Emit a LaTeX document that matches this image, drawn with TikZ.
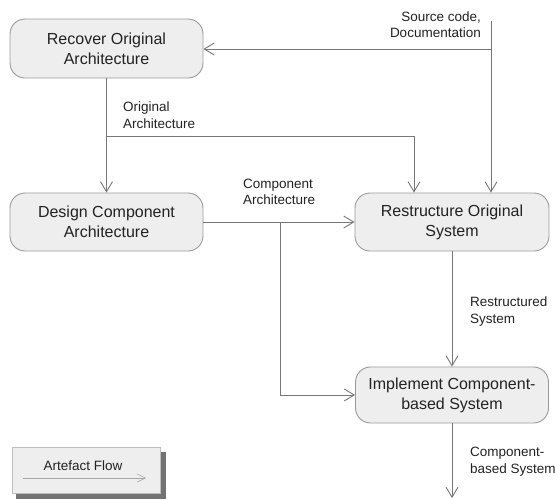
\documentclass[tikz,border=0pt]{standalone}
\usepackage{fontspec}
\setmainfont{Liberation Sans}
\usetikzlibrary{arrows.meta}
\definecolor{boxfill}{HTML}{EEEEEE}
\definecolor{boxline}{HTML}{9A9A9A}
\definecolor{flowline}{HTML}{777777}
\definecolor{inkcol}{HTML}{222222}
\begin{document}
\begin{tikzpicture}[x=1pt,y=-1pt,
  activity/.style={draw=boxline, fill=boxfill, rounded corners=15pt, line width=0.9pt,
    minimum width=193pt, minimum height=57pt, align=center, text=inkcol,
    font=\fontsize{16}{20}\selectfont, inner sep=0pt},
  flow/.style={draw=flowline, line width=0.9pt,
    -{Straight Barb[length=10pt,width=12pt,line width=0.9pt]}},
  plain/.style={draw=flowline, line width=0.9pt},
  lbl/.style={align=left, text=inkcol, inner sep=0pt,
    font=\fontsize{13.5}{16.5}\selectfont}]
\useasboundingbox (0,0) rectangle (555,499);

% activities
\node[activity, minimum height=59pt] (rec) at (106.5,48.5) {Recover Original\\Architecture};
\node[activity, minimum height=58pt] (des) at (106.5,222) {Design Component\\Architecture};
\node[activity, minimum width=194pt, minimum height=58pt] (rst) at (452,222) {Restructure Original\\System};
\node[activity, minimum height=56pt] (imp) at (452,395) {Implement Component-\\based System};

% junction points
\coordinate (src) at (491,21);
\coordinate (j1) at (491,49);
\coordinate (j2) at (106.5,136);
\coordinate (j3) at (280,222);
\coordinate (out) at (452,498);

% artefact flows
\draw[plain] (src) -- (j1);
\draw[flow] (j1) -- (rec.east |- j1);
\draw[flow] (j1) -- (j1 |- rst.north);
\draw[flow] (rec.south) -- (des.north);
\draw[flow] (j2) -| ([xshift=-38pt]rst.north);
\draw[flow] (des.east) -- (rst.west);
\draw[flow] (j3) |- (imp.west);
\draw[flow] (rst.south) -- (imp.north);
\draw[flow] (imp.south) -- (out);

% flow labels
\node[lbl, align=right, anchor=east] (lsrc) at (481,24.5) {Source code,\\Documentation};
\node[lbl, anchor=west] (lorig) at (123,115) {Original\\Architecture};
\node[lbl, anchor=west] (lcomp) at (243,192) {Component\\Architecture};
\node[lbl, anchor=west] (lrst) at (470,311.5) {Restructured\\System};
\node[lbl, anchor=west] (lcbs) at (470,461.5) {Component-\\based System};

% legend
\fill[fill=black!55] (16,452) rectangle (166,499);
\node[draw=black!25, fill=boxfill, minimum width=148pt, minimum height=46pt,
  inner sep=0pt, line width=0.6pt] (leg) at (86,470) {};
\node[lbl, anchor=center] (legtext) at (83,466) {Artefact Flow};
\coordinate (la) at (23,478);
\coordinate (lb) at (146,478);
\draw[draw=black!35, line width=0.6pt,
  -{Straight Barb[length=8pt,width=8pt,line width=0.6pt]}] (la) -- (lb);
\end{tikzpicture}
\end{document}
